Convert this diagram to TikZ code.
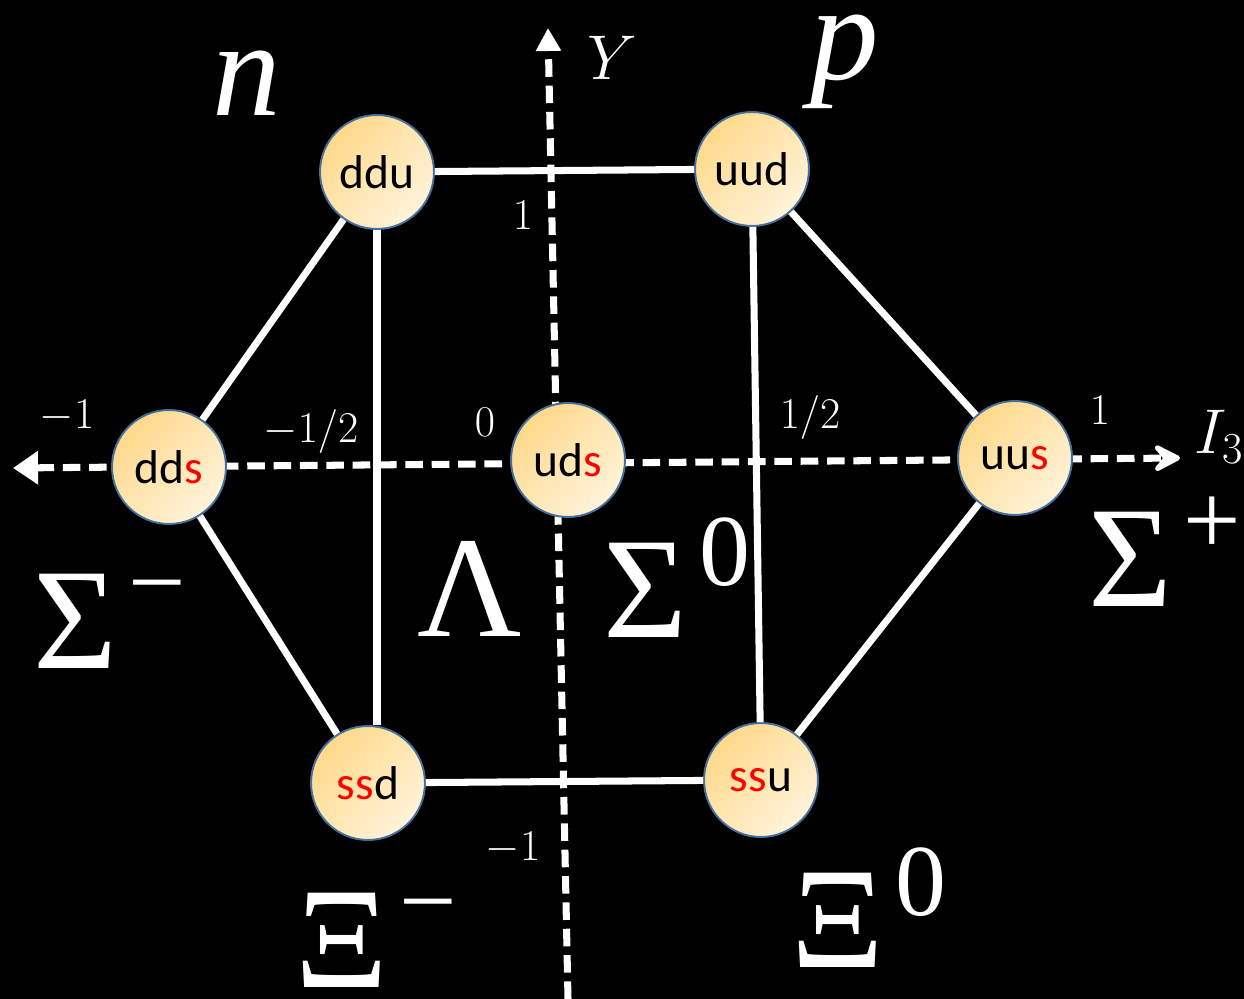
\RequirePackage{fix-cm}
\documentclass[tikz,border=0pt]{standalone}
\usepackage{fontspec}
\newfontfamily\quarkfont{Carlito}
\newfontfamily\greekfont{Liberation Serif}
\usetikzlibrary{arrows.meta}
\definecolor{qgold}{HTML}{FFD98A}
\definecolor{qcream}{HTML}{FFF3DA}
\definecolor{qedge}{HTML}{41719C}
\definecolor{qred}{HTML}{FF0000}

\tikzset{
  quark/.style={circle, minimum size=2.28cm, inner sep=0pt, draw=qedge, line width=1.1pt,
    top color=qgold, bottom color=qcream, shading angle=45,
    font=\quarkfont\fontsize{27}{30}\selectfont},
  link/.style={white, line width=4pt},
  axis/.style={white, line width=4pt, dash pattern=on 10pt off 5pt},
  tick/.style={text=white, inner sep=0pt, font=\fontsize{25}{30}\selectfont},
  axislab/.style={text=white, inner sep=0pt, font=\fontsize{36}{40}\selectfont},
  baryon/.style={text=white, inner sep=0pt, font=\greekfont\fontsize{82}{90}\selectfont},
  nucleon/.style={text=white, inner sep=0pt, font=\greekfont\itshape\fontsize{78}{86}\selectfont},
}
\newcommand{\sq}{\textcolor{qred}{s}}
\newcommand{\bary}[2]{#1\kern0.08em\raisebox{0.36em}{\fontsize{58}{60}\selectfont #2}}

\begin{document}
\begin{tikzpicture}[x=0.02cm, y=-0.02cm]

% Background
\useasboundingbox (0,0) rectangle (1244,999);
\fill[black] (0,0) rectangle (1244,999);

% Axes (pixel grid: x right, y down)
\coordinate (ybot) at (568,999);
\coordinate (ytop) at (548,28);
\coordinate (ileft) at (13,468);
\coordinate (iright) at (1180,458);
\draw[axis, -{Triangle[length=0.46cm, width=0.48cm]}] (ybot) -- (ytop);
\draw[axis, {Triangle[length=0.5cm, width=0.64cm]}-{Stealth[length=0.7cm, width=0.72cm, inset=0.3cm, round]}]
  (ileft) -- (iright);
\node[axislab] (ylab) at (612,58) {$Y$};
\node[axislab] (ilab) at (1219,437) {$I_3$};

% Tick labels
\foreach \px/\py/\lab [count=\i] in {67/416/{-1}, 311/432/{-1/2}, 485/422/0, 810/418/{1/2},
    1100/410/1, 523/215/1, 513/848/{-1}} {
  \node[tick] (tk\i) at (\px,\py) {$\lab$};
}

% Octet states
\node[quark] (ddu) at (377,172) {ddu};
\node[quark] (uud) at (752,169) {uud};
\node[quark] (dds) at (169,467) {dd\sq};
\node[quark] (uds) at (568,460) {ud\sq};
\node[quark] (uus) at (1015,458) {uu\sq};
\node[quark] (ssd) at (368,783) {\sq\sq d};
\node[quark] (ssu) at (761,780) {\sq\sq u};

% Hexagon
\draw[link] (ddu) -- (uud);
\draw[link] (uud) -- (uus);
\draw[link] (uus) -- (ssu);
\draw[link] (ssu) -- (ssd);
\draw[link] (ssd) -- (dds);
\draw[link] (dds) -- (ddu);
\draw[link] (ddu.south) -- (ddu.south |- ssd.north);
\draw[link] (uud) -- (ssu);

% Baryon names
\node[nucleon] (nlab) at (247,83) {n};
\node[nucleon] (plab) at (845,62) {p};
\node[baryon] (sigm) at (110,621) {\bary{Σ}{−}};
\node[baryon] (lam) at (470,589) {Λ};
\node[baryon] (sigz) at (677,578) {\bary{Σ}{0}};
\node[baryon] (sigp) at (1165,552) {\bary{Σ}{+}};
\node[baryon] (xim) at (376,940) {\bary{Ξ}{−}};
\node[baryon] (xiz) at (869,908) {\bary{Ξ}{0}};

\end{tikzpicture}
\end{document}
